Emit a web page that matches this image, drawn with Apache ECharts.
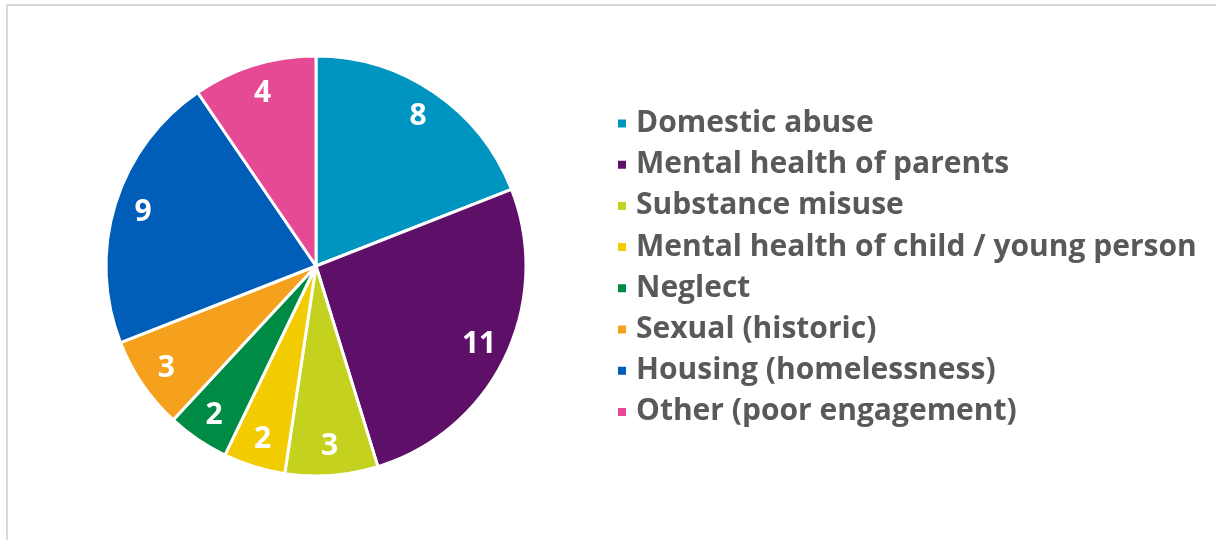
<!DOCTYPE html>
<html>
<head>
<meta charset="utf-8">
<script src="https://cdn.jsdelivr.net/npm/echarts@6/dist/echarts.min.js"></script>
<style>
  html, body { margin: 0; padding: 0; background: #fff; }
  #chart { width: 1216px; height: 540px; }
</style>
</head>
<body>
<div id="chart"></div>
<script>
// Categories, counts and slice colours
const categories = [
  'Domestic abuse',
  'Mental health of parents',
  'Substance misuse',
  'Mental health of child / young person',
  'Neglect',
  'Sexual (historic)',
  'Housing (homelessness)',
  'Other (poor engagement)'
];
const counts = [8, 11, 3, 2, 2, 3, 9, 4];
const colors = ['#0094C0', '#5E1068', '#C4D21F', '#F2CB00', '#008B45', '#F5A11E', '#005EB8', '#E74A94'];

const FONT = '"Open Sans", "Noto Sans", sans-serif';

const pieData = categories.map((name, i) => ({
  name: name,
  value: counts[i],
  itemStyle: { color: colors[i] }
}));

const center = [316, 266];

const chart = echarts.init(document.getElementById('chart'), null, { renderer: 'canvas' });

chart.setOption({
  animation: false,
  backgroundColor: '#ffffff',
  graphic: [{
    type: 'rect',
    shape: { x: 7, y: 5, width: 1300, height: 700 },
    style: { fill: 'none', stroke: '#d9d9d9', lineWidth: 2 },
    silent: true
  }],
  legend: {
    orient: 'vertical',
    left: 611,
    top: 98,
    icon: 'rect',
    itemWidth: 10,
    itemHeight: 10,
    itemGap: 0.2,
    selectedMode: false,
    textStyle: {
      fontFamily: FONT,
      fontWeight: 'bold',
      fontSize: 30,
      color: '#595959',
      lineHeight: 41,
      padding: [0, 0, 0, 4]
    },
    data: categories
  },
  series: [
    {
      // slices
      type: 'pie',
      center: center,
      radius: [0, 210],
      startAngle: 90,
      clockwise: true,
      silent: true,
      label: { show: false },
      labelLine: { show: false },
      itemStyle: { borderColor: '#ffffff', borderWidth: 3 },
      data: pieData
    },
    {
      // value labels placed near the rim
      type: 'pie',
      center: center,
      radius: [146, 210],
      startAngle: 90,
      clockwise: true,
      silent: true,
      legendHoverLink: false,
      itemStyle: { color: 'rgba(0,0,0,0)', borderWidth: 0 },
      label: {
        show: true,
        position: 'inside',
        formatter: '{c}',
        fontFamily: FONT,
        fontWeight: 'bold',
        fontSize: 30,
        color: '#ffffff'
      },
      labelLine: { show: false },
      data: categories.map((name, i) => ({ name: name + ' ', value: counts[i] }))
    }
  ]
});
</script>
</body>
</html>
